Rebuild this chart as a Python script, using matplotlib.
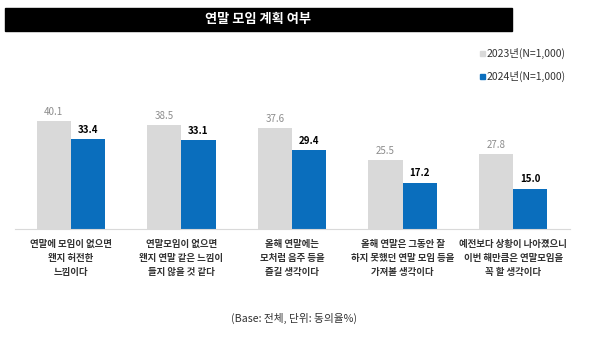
import numpy as np
import matplotlib.pyplot as plt
from matplotlib.patches import Rectangle

plt.rcParams['font.family'] = ['Noto Sans CJK KR', 'DejaVu Sans']

categories = ["연말에 모임이 없으면\n왠지 허전한\n느낌이다",
              "연말모임이 없으면\n왠지 연말 같은 느낌이\n들지 않을 것 같다",
              "올해 연말에는\n모처럼 음주 등을\n즐길 생각이다",
              "올해 연말은 그동안 잘\n하지 못했던 연말 모임 등을\n가져볼 생각이다",
              "예전보다 상황이 나아졌으니\n이번 해만큼은 연말모임을\n꼭 할 생각이다"]
vals_2023 = [40.1, 38.5, 37.6, 25.5, 27.8]
vals_2024 = [33.4, 33.1, 29.4, 17.2, 15.0]
labels = ["2023년(N=1,000)", "2024년(N=1,000)"]

gray = "#d9d9d9"
blue = "#0a6ebd"

fig = plt.figure(figsize=(5.97, 3.42), dpi=100)

# title bar
fig.patches.append(Rectangle((5/597, 1-31/342), 507/597, 23/342,
                             transform=fig.transFigure, color="black", zorder=0))
fig.text(258/597, 1-19.5/342, "연말 모임 계획 여부", color="white", fontsize=9.5,
         fontweight="bold", ha="center", va="center")

ax = fig.add_axes([15/597, 1-229/342, 555/597, 121/342])
x = np.arange(len(categories))
w = 0.31
ax.bar(x - w/2, vals_2023, w, color=gray)
ax.bar(x + w/2, vals_2024, w, color=blue)
for i in x:
    ax.text(i - w/2, vals_2023[i] + 1.6, f"{vals_2023[i]:.1f}", ha="center", va="bottom",
            fontsize=7, color="#8c8c8c")
    ax.text(i + w/2, vals_2024[i] + 1.6, f"{vals_2024[i]:.1f}", ha="center", va="bottom",
            fontsize=7, color="black", fontweight="bold")
ax.set_xlim(-0.505, 4.515)
ax.set_ylim(0, 45)
for s in ["top", "right", "left"]:
    ax.spines[s].set_visible(False)
ax.spines["bottom"].set_color(gray)
ax.set_yticks([])
ax.set_xticks(x)
ax.set_xticklabels(categories, fontsize=6.8, color="#333333", linespacing=1.5,
                   fontweight="bold")
ax.tick_params(axis="x", length=0, pad=7)

# legend
for k, (lab, c) in enumerate(zip(labels, [gray, blue])):
    yy = 1 - (53 + 23*k)/342
    fig.patches.append(Rectangle((480/597, yy - 2.5/342), 5/597, 5/342,
                                 transform=fig.transFigure, color=c))
    fig.text(487/597, yy, lab, fontsize=7.5, color="#333333", va="center", ha="left",
             fontweight="medium")

fig.text(294/597, 1-318/342, "(Base: 전체, 단위: 동의율%)", fontsize=7.7,
         color="#333333", ha="center", va="center")

fig.savefig("out.png", dpi=100)
